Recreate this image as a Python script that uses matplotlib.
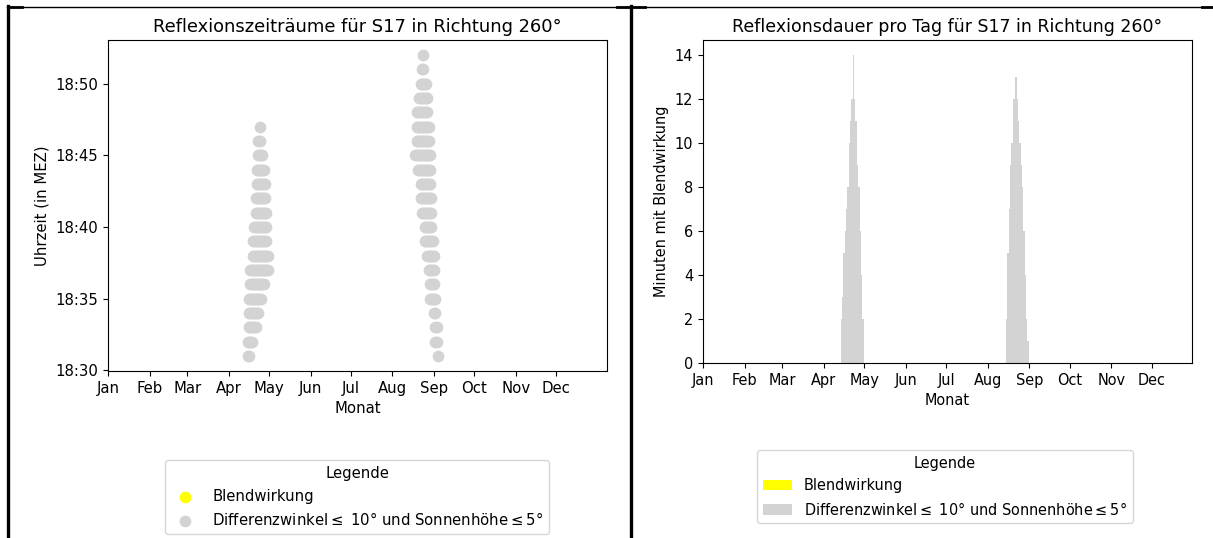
import datetime as dt
import numpy as np
import matplotlib
matplotlib.use("Agg")
import matplotlib.pyplot as plt
import matplotlib.dates as mdates
from matplotlib.lines import Line2D

# --- data --------------------------------------------------------------
year_start = dt.datetime(2023, 1, 1)
month_labels = ["Jan", "Feb", "Mar", "Apr", "May", "Jun",
                "Jul", "Aug", "Sep", "Oct", "Nov", "Dec"]

# scatter: minute after 18:00, first day, last day (day 0 = 1 Jan)
spring_rows = [(31, 104, 105), (32, 104, 107), (33, 105, 110), (34, 105, 112),
               (35, 105, 114), (36, 106, 116), (37, 106, 119), (38, 108, 119),
               (39, 108, 118), (40, 109, 118), (41, 110, 118), (42, 110, 117),
               (43, 111, 117), (44, 111, 116), (45, 112, 115), (46, 112, 113),
               (47, 113, 113)]
autumn_rows = [(31, 246, 246), (32, 244, 245), (33, 244, 245), (34, 243, 244),
               (35, 240, 244), (36, 240, 243), (37, 239, 243), (38, 238, 243),
               (39, 236, 242), (40, 236, 241), (41, 234, 241), (42, 233, 241),
               (43, 233, 240), (44, 231, 240), (45, 229, 240), (46, 230, 239),
               (47, 230, 239), (48, 230, 238), (49, 232, 238), (50, 233, 237),
               (51, 234, 235), (52, 235, 235)]

# bars: minutes per day
spring_first_day = 103
spring_minutes = [2, 3, 5, 6, 7, 8, 10, 11, 12, 14, 12, 11, 9, 8, 6, 4, 2]
autumn_first_day = 226
autumn_minutes = [2, 5, 7, 9, 10, 12, 12, 13, 12, 11, 10, 9, 8, 6, 4, 2, 1]

grey = "lightgrey"
leq_label = "Differenzwinkel$\\leq$ 10° und Sonnenhöhe$\\leq$5°"

# --- points of the scatter ----------------------------------------------
xs, ys = [], []
for rows in (spring_rows, autumn_rows):
    for minute, d0, d1 in rows:
        for d in range(d0, d1 + 1):
            xs.append(year_start + dt.timedelta(days=d))
            ys.append(dt.datetime(1900, 1, 1, 18, minute))

month_ticks = [dt.datetime(2023, m, 1) for m in range(1, 13)]

fig = plt.figure(figsize=(12.13, 5.38), dpi=100)
W, H = 1213, 538

# left picture: slightly larger text than the right one
fs1, ts1 = 10.7, 12.85
ax1 = fig.add_axes([108 / W, 1 - 371 / H, (607 - 108) / W, (371 - 40) / H])
ax1.scatter(xs, ys, s=55, color=grey, label=leq_label)
ax1.scatter([], [], s=55, color="yellow", label="Blendwirkung")
ax1.set_xlim(year_start, year_start + dt.timedelta(days=372))
ax1.set_xticks(month_ticks)
ax1.set_xticklabels(month_labels)
ax1.yaxis.set_major_locator(mdates.MinuteLocator(byminute=range(0, 60, 5)))
ax1.yaxis.set_major_formatter(mdates.DateFormatter("%H:%M"))
ax1.tick_params(labelsize=fs1)
ax1.set_title("Reflexionszeiträume für S17 in Richtung 260°", fontsize=ts1)
ax1.set_xlabel("Monat", fontsize=fs1)
ax1.set_ylabel("Uhrzeit (in MEZ)", fontsize=fs1)
h, l = ax1.get_legend_handles_labels()
ax1.legend(h[::-1], l[::-1], title="Legende", loc="upper center", fontsize=fs1,
           title_fontsize=fs1,
           bbox_to_anchor=(357 / W, 1 - 453 / H), bbox_transform=fig.transFigure)

# --- bar chart ------------------------------------------------------------
fs2, ts2 = 10.45, 12.55
ax2 = fig.add_axes([703 / W, 1 - 363 / H, (1192 - 703) / W, (363 - 40) / H])
bar_days = [year_start + dt.timedelta(days=spring_first_day + i) for i in range(len(spring_minutes))]
bar_days += [year_start + dt.timedelta(days=autumn_first_day + i) for i in range(len(autumn_minutes))]
bar_vals = spring_minutes + autumn_minutes
ax2.bar(bar_days, [0] * len(bar_days), width=1, color="yellow", label="Blendwirkung")
ax2.bar(bar_days, bar_vals, width=1, color=grey, linewidth=0, label=leq_label)
ax2.set_xlim(year_start, year_start + dt.timedelta(days=364))
ax2.set_xticks(month_ticks)
ax2.set_xticklabels(month_labels)
ax2.tick_params(labelsize=fs2)
ax2.set_title("Reflexionsdauer pro Tag für S17 in Richtung 260°", fontsize=ts2)
ax2.set_xlabel("Monat", fontsize=fs2)
ax2.set_ylabel("Minuten mit Blendwirkung", fontsize=fs2)
ax2.legend(title="Legende", loc="upper center", fontsize=fs2, title_fontsize=fs2,
           bbox_to_anchor=(945 / W, 1 - 443 / H), bbox_transform=fig.transFigure)

# --- table borders around the two pictures ---------------------------------
def px_line(x, y, lw):
    fig.add_artist(Line2D([v / W for v in x], [1 - v / H for v in y],
                          color="black", linewidth=lw, transform=fig.transFigure))

px_line([7, 1213], [6.5, 6.5], 1.0)
px_line([8, 8], [6, 538], 2.4)
px_line([631, 631], [6, 538], 2.4)
px_line([8, 22], [7, 7], 2.0)
px_line([617, 645], [7, 7], 2.0)
px_line([1202, 1213], [7, 7], 2.0)

fig.savefig("out.png", dpi=100)
